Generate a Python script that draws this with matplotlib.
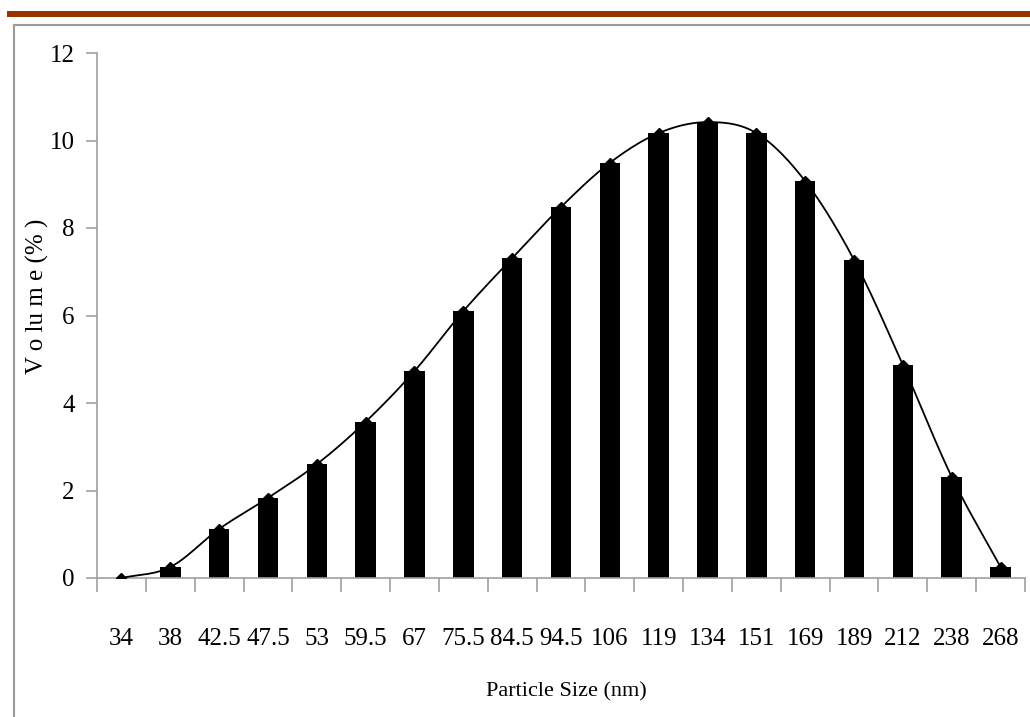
import numpy as np
import matplotlib.pyplot as plt
from matplotlib.patches import Rectangle
from matplotlib.lines import Line2D
from matplotlib.ticker import FixedLocator, NullFormatter

sizes = ["34", "38", "42.5", "47.5", "53", "59.5", "67", "75.5", "84.5", "94.5",
         "106", "119", "134", "151", "169", "189", "212", "238", "268"]
volume = [0.0, 0.25, 1.12, 1.83, 2.6, 3.57, 4.73, 6.1, 7.31, 8.48,
          9.49, 10.17, 10.42, 10.17, 9.07, 7.27, 4.87, 2.31, 0.25]

plt.rcParams['font.family'] = ['Liberation Serif', 'DejaVu Serif']


def catmull_rom(x, y, n=20):
    # smoothed line like a spreadsheet "smoothed line" series
    x = np.asarray(x, float)
    y = np.asarray(y, float)
    px = np.concatenate([[2 * x[0] - x[1]], x, [2 * x[-1] - x[-2]]])
    py = np.concatenate([[2 * y[0] - y[1]], y, [2 * y[-1] - y[-2]]])
    t = np.linspace(0, 1, n, endpoint=False)
    xs, ys = [], []
    for i in range(1, len(px) - 2):
        for p, out in ((px, xs), (py, ys)):
            p0, p1, p2, p3 = p[i - 1], p[i], p[i + 1], p[i + 2]
            out.extend(0.5 * (2 * p1 + (-p0 + p2) * t
                              + (2 * p0 - 5 * p1 + 4 * p2 - p3) * t ** 2
                              + (-p0 + 3 * p1 - 3 * p2 + p3) * t ** 3))
    xs.append(x[-1])
    ys.append(y[-1])
    return np.array(xs), np.array(ys)


fig = plt.figure(figsize=(10.30, 7.17), dpi=100)
W, H = 1030, 717

# decorative slide-style header bar and frame
fig.add_artist(Rectangle((7 / W, 1 - 16.5 / H), 1 - 7 / W, 5.5 / H,
                         transform=fig.transFigure, color='#993300', lw=0))
fig.add_artist(Line2D([13.5 / W, 1], [1 - 25 / H, 1 - 25 / H],
                      transform=fig.transFigure, color='#9a9a9a', lw=1.5))
fig.add_artist(Line2D([13.5 / W, 13.5 / W], [0, 1 - 25 / H],
                      transform=fig.transFigure, color='#9a9a9a', lw=1.5))

ax = fig.add_axes([97 / W, (H - 578) / H, (1025 - 97) / W, (578 - 53) / H])

xpos = np.arange(len(sizes))
ax.bar(xpos, volume, width=0.42, color='black', zorder=2)
sx, sy = catmull_rom(xpos, volume)
ax.plot(sx, sy, color='black', lw=1.3, zorder=3)
ax.plot(xpos, volume, ls='none', marker='D', ms=5.5, color='black', zorder=4)

ax.set_xlim(-0.5, len(sizes) - 0.5)
ax.set_ylim(0, 12)
ax.set_yticks(np.arange(0, 13, 2))
ax.set_xticks(xpos)
ax.set_xticklabels(sizes)
ax.xaxis.set_minor_locator(FixedLocator(np.arange(-0.5, len(sizes), 1)))
ax.xaxis.set_minor_formatter(NullFormatter())

ax.tick_params(axis='x', which='major', length=0, pad=36, labelsize=18)
ax.tick_params(axis='x', which='minor', length=10, color='#a0a0a0', width=1.2, direction='out')
ax.tick_params(axis='y', length=8, color='#a0a0a0', width=1.2, pad=8, labelsize=18)

for s in ('top', 'right'):
    ax.spines[s].set_visible(False)
for s in ('left', 'bottom'):
    ax.spines[s].set_color('#a0a0a0')
    ax.spines[s].set_linewidth(1.2)

fig.text(566 / W, 1 - 692 / H, "Particle Size (nm)", ha='center', va='center', fontsize=16)
fig.text(37 / W, 1 - 296 / H, "V o lu m e (% )", ha='center', va='center',
         rotation=90, fontsize=18)

fig.savefig("out.png", dpi=100)
